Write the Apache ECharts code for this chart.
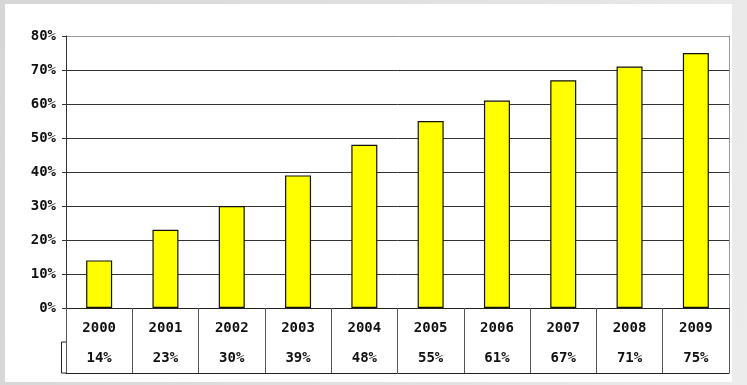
<!DOCTYPE html>
<html><head><meta charset="utf-8">
<script src="https://cdn.jsdelivr.net/npm/echarts@6/dist/echarts.min.js"></script>
<style>
html,body{margin:0;padding:0;}
#c{width:747px;height:385px;background:linear-gradient(100deg,#d6d6d6 0%,#e2e2e2 60%,#ececec 100%);}
</style></head><body>
<div id="c"></div>
<script>
const years = ['2000','2001','2002','2003','2004','2005','2006','2007','2008','2009'];
const shares = [14,23,30,39,48,55,61,67,71,75];
const shareLabels = ['14%','23%','30%','39%','48%','55%','61%','67%','71%','75%'];
const yTicks = [0,10,20,30,40,50,60,70,80];

const chart = echarts.init(document.getElementById('c'));
const font = {fontFamily:'"DejaVu Sans Mono", monospace', fontWeight:'bold', fontSize:14, color:'#111'};
const option = {
  animation:false,
  backgroundColor:'transparent',
  grid:{left:66,right:18,top:36,bottom:77},
  xAxis:[
    {type:'category', data:years, position:'bottom', boundaryGap:true,
     axisLine:{lineStyle:{color:'#333',width:1}},
     axisTick:{show:true,length:65,lineStyle:{color:'#555',width:1}},
     axisLabel:Object.assign({margin:13},font)},
    {type:'category', data:shareLabels, position:'bottom', offset:34, boundaryGap:true,
     axisLine:{lineStyle:{color:'#222',width:1}},
     axisTick:{show:false},
     axisLabel:Object.assign({margin:9},font)},
    {type:'category', data:years, position:'bottom', offset:65, boundaryGap:true,
     axisLine:{lineStyle:{color:'#222',width:1}},
     axisTick:{show:false}, axisLabel:{show:false}}
  ],
  yAxis:[
    {type:'value', min:yTicks[0], max:yTicks[yTicks.length-1], interval:10,
     axisLine:{show:true,lineStyle:{color:'#333'}},
     axisTick:{show:true,length:4,lineStyle:{color:'#333'}},
     axisLabel:Object.assign({margin:10,formatter:'{value}%'},font),
     splitLine:{show:true,lineStyle:{color:['#333','#333','#333','#333','#333','#333','#333','#333','#999'],width:1}}},
    {type:'value', min:0, max:80, position:'right',
     axisLine:{show:true,lineStyle:{color:'#999'}},
     axisTick:{show:false}, axisLabel:{show:false}, splitLine:{show:false}}
  ],
  series:[{
    type:'bar', data:shares, barWidth:26, xAxisIndex:0, yAxisIndex:0,
    itemStyle:{color:'#ffff00',borderColor:'#111',borderWidth:1.2}
  }]
};
chart.setOption(option);
const leftX = 66, row2Top = 308+34, row2Bot = 308+65;
chart.setOption({graphic:[
  {type:'rect', z:-10, silent:true, shape:{x:5,y:4,width:727,height:378}, style:{fill:'#ffffff'}},
  {type:'polyline', z:10, silent:true, shape:{points:[[leftX,row2Top],[leftX-4.5,row2Top],[leftX-4.5,row2Bot],[leftX,row2Bot]]}, style:{stroke:'#222',fill:null,lineWidth:1}}
]});
</script>
</body></html>
